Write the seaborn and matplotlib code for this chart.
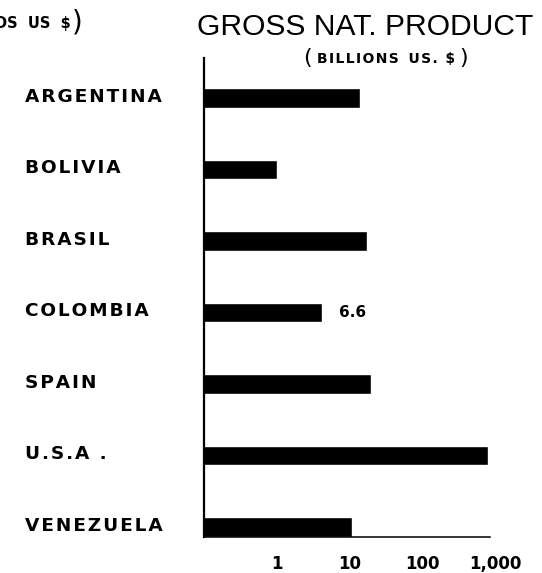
import matplotlib
matplotlib.use('Agg')
import matplotlib.pyplot as plt
import matplotlib.transforms as mtransforms
import seaborn as sns
import pandas as pd
from matplotlib.ticker import NullLocator

# values (log scale, billions US $)
countries = ['ARGENTINA', 'BOLIVIA', 'BRASIL', 'COLOMBIA', 'SPAIN', 'U.S.A .', 'VENEZUELA']
gnp = [13.6, 1.0, 17.0, 4.2, 19.3, 790, 10.6]
tick_values = [1, 10, 100, 1000]
tick_labels = ['1', '10', '100', '1,000']
colombia_label = '6.6'


def spaced(s):
    # old lettering has wide letter spacing, fake it with hair spaces
    return '\u200a'.join(s)


sns.set_style('white')
plt.rcParams['font.family'] = ['DejaVu Sans']
plt.rcParams['text.color'] = 'black'
plt.rcParams['xtick.color'] = 'black'
plt.rcParams['ytick.color'] = 'black'

fig = plt.figure(figsize=(5.42, 5.73), dpi=100)
ax = fig.add_axes([0.3764, 0.0628, 0.538, 0.836])

df = pd.DataFrame({'country': countries, 'gnp': gnp})
sns.barplot(data=df, x='gnp', y='country', color='black', saturation=1,
            width=0.27, ax=ax)

ax.set_xscale('log')
ax.set_xlim(0.1, 1000)
ax.set_ylim(6.14, -0.558)
ax.xaxis.set_minor_locator(NullLocator())
ax.set_xticks(tick_values, tick_labels)
ax.set_yticks(range(len(countries)), [spaced(c) for c in countries])
ax.set_xlabel('')
ax.set_ylabel('')

ax.tick_params(axis='x', length=0, pad=13, labelsize=12)
ax.tick_params(axis='y', length=0, pad=129, labelsize=13.3)
for lab in ax.get_xticklabels():
    lab.set_fontweight('bold')
# names sit a little above the bar centres in the original
nudge = mtransforms.ScaledTranslation(0, 3 / 100, fig.dpi_scale_trans)
for lab in ax.get_yticklabels():
    lab.set_fontweight('bold')
    lab.set_horizontalalignment('left')
    lab.set_transform(lab.get_transform() + nudge)

for side in ['top', 'right']:
    ax.spines[side].set_visible(False)
ax.spines['left'].set_linewidth(1.6)
ax.spines['bottom'].set_linewidth(1.1)
ax.spines['bottom'].set_bounds(0.1, 830)
for side in ['left', 'bottom']:
    ax.spines[side].set_color('black')

ax.annotate(colombia_label, xy=(gnp[3], 3), xytext=(12, 0),
            textcoords='offset points', ha='left', va='center',
            fontsize=11, fontweight='bold')

# titles
fig.text(0.6734, 0.9389, 'GROSS NAT. PRODUCT', ha='center', va='baseline',
         fontsize=21.6, family='Liberation Sans')
fig.text(0.712, 0.890, spaced('BILLIONS') + '  ' + spaced('US. $'),
         ha='center', va='baseline', fontsize=10, fontweight='bold')
fig.text(0.568, 0.888, '(', ha='center', va='baseline', fontsize=16)
fig.text(0.856, 0.888, ')', ha='center', va='baseline', fontsize=16)

# cut-off caption of the neighbouring chart
fig.text(0.131, 0.951, 'DS  US  $', ha='right', va='baseline',
         fontsize=10.5, fontweight='bold')
fig.text(0.142, 0.946, ')', ha='center', va='baseline', fontsize=20)

fig.savefig('out.png', dpi=100)
